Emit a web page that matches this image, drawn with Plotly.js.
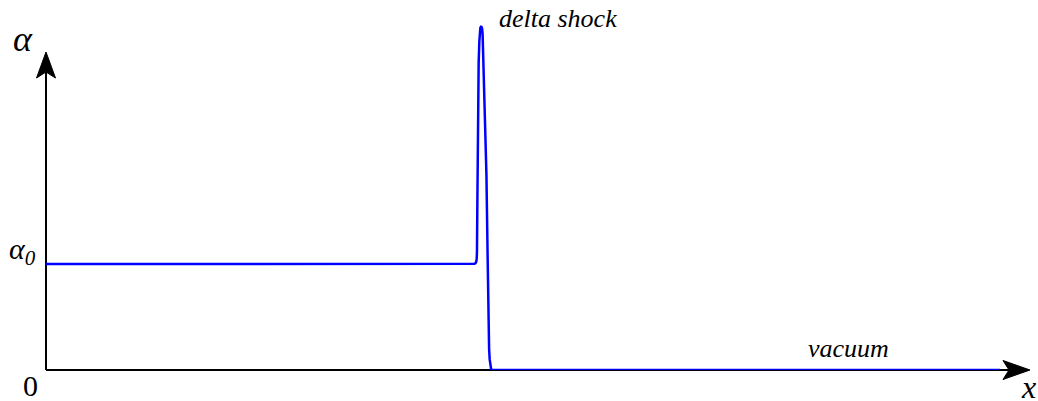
<!DOCTYPE html>
<html>
<head>
<meta charset="utf-8">
<script src="https://cdn.plot.ly/plotly-3.0.1.min.js"></script>
<style>html,body{margin:0;padding:0;background:#fff;}#chart{width:1038px;height:401px;}</style>
</head>
<body>
<div id="chart"></div>
<script>
// Curve alpha(x): constant alpha0 = 1 state, delta-shock spike, then vacuum (0)
var xValues = [0, 4.340, 4.355, 4.365, 4.372, 4.377, 4.380, 4.383, 4.387, 4.392, 4.397, 4.404, 4.409, 4.414, 4.420, 4.426, 4.432, 4.437, 4.442, 4.450, 4.462, 4.476, 4.487, 4.492, 4.497, 4.503, 4.509, 4.516, 4.523, 4.533, 9.695];
var alphaValues = [1.0, 1.0, 1.002, 1.008, 1.02, 1.05, 1.12, 1.5, 2.0, 2.5, 2.9, 3.1, 3.19, 3.228, 3.238, 3.236, 3.22, 3.17, 3.0, 2.75, 2.4, 1.84, 1.132, 0.66, 0.377, 0.2, 0.1, 0.04, 0.012, 0, 0];
var labelTexts = {alpha: "α", alpha0: "α<sub>0</sub>", zero: "0", x: "x", shock: "delta shock", vacuum: "vacuum"};

var W = 1038, H = 401, L = 46, R = 8, T = 20, B = 31;
var pw = W - L - R, ph = H - T - B;
function px(p) { return (p - L) / pw; }
function py(p) { return (H - B - p) / ph; }
function pth(pts) {
  return pts.map(function (q, i) { return (i ? "L" : "M") + px(q[0]) + "," + py(q[1]); }).join(" ") + " Z";
}

var serifFamily = "Liberation Serif";

var trace = {
  x: xValues, y: alphaValues, type: "scatter", mode: "lines",
  line: {color: "#0000ff", width: 2.5, shape: "linear"},
  hoverinfo: "skip"
};

var shapes = [
  {type: "line", xref: "paper", yref: "paper", x0: px(46), y0: py(370), x1: px(46), y1: py(72), line: {color: "#000", width: 2}, layer: "below"},
  {type: "line", xref: "paper", yref: "paper", x0: px(46), y0: py(370), x1: px(1009), y1: py(370), line: {color: "#000", width: 2}, layer: "below"},
  {type: "path", xref: "paper", yref: "paper", path: pth([[46, 52], [36.5, 78], [46, 72], [55.5, 78]]), fillcolor: "#000", line: {color: "#000", width: 1}},
  {type: "path", xref: "paper", yref: "paper", path: pth([[1030, 370], [1003, 360.5], [1009, 370], [1003, 379.5]]), fillcolor: "#000", line: {color: "#000", width: 1}}
];

function ann(text, x, y, xa, size, italic) {
  return {text: text, xref: "paper", yref: "paper", x: px(x), y: py(y), xanchor: xa, yanchor: "middle",
    showarrow: false, font: {family: serifFamily, size: size, color: "#000", style: italic ? "italic" : "normal"}};
}

var annotations = [
  ann(labelTexts.alpha, 23, 39, "center", 36, true),
  ann(labelTexts.alpha0, 22, 251, "center", 30, true),
  ann(labelTexts.zero, 30, 385, "center", 30, false),
  ann(labelTexts.x, 1028, 387, "center", 32, true),
  ann(labelTexts.shock, 497, 19, "left", 26, true),
  ann(labelTexts.vacuum, 806, 348, "left", 26, true)
];

var layout = {
  width: W, height: H,
  margin: {l: L, r: R, t: T, b: B, pad: 0},
  paper_bgcolor: "#fff", plot_bgcolor: "#fff",
  showlegend: false,
  xaxis: {range: [0, 10], visible: false, fixedrange: true},
  yaxis: {range: [0, ph / 106], visible: false, fixedrange: true},
  shapes: shapes,
  annotations: annotations
};

Plotly.newPlot("chart", [trace], layout, {displayModeBar: false, staticPlot: true});
</script>
</body>
</html>
